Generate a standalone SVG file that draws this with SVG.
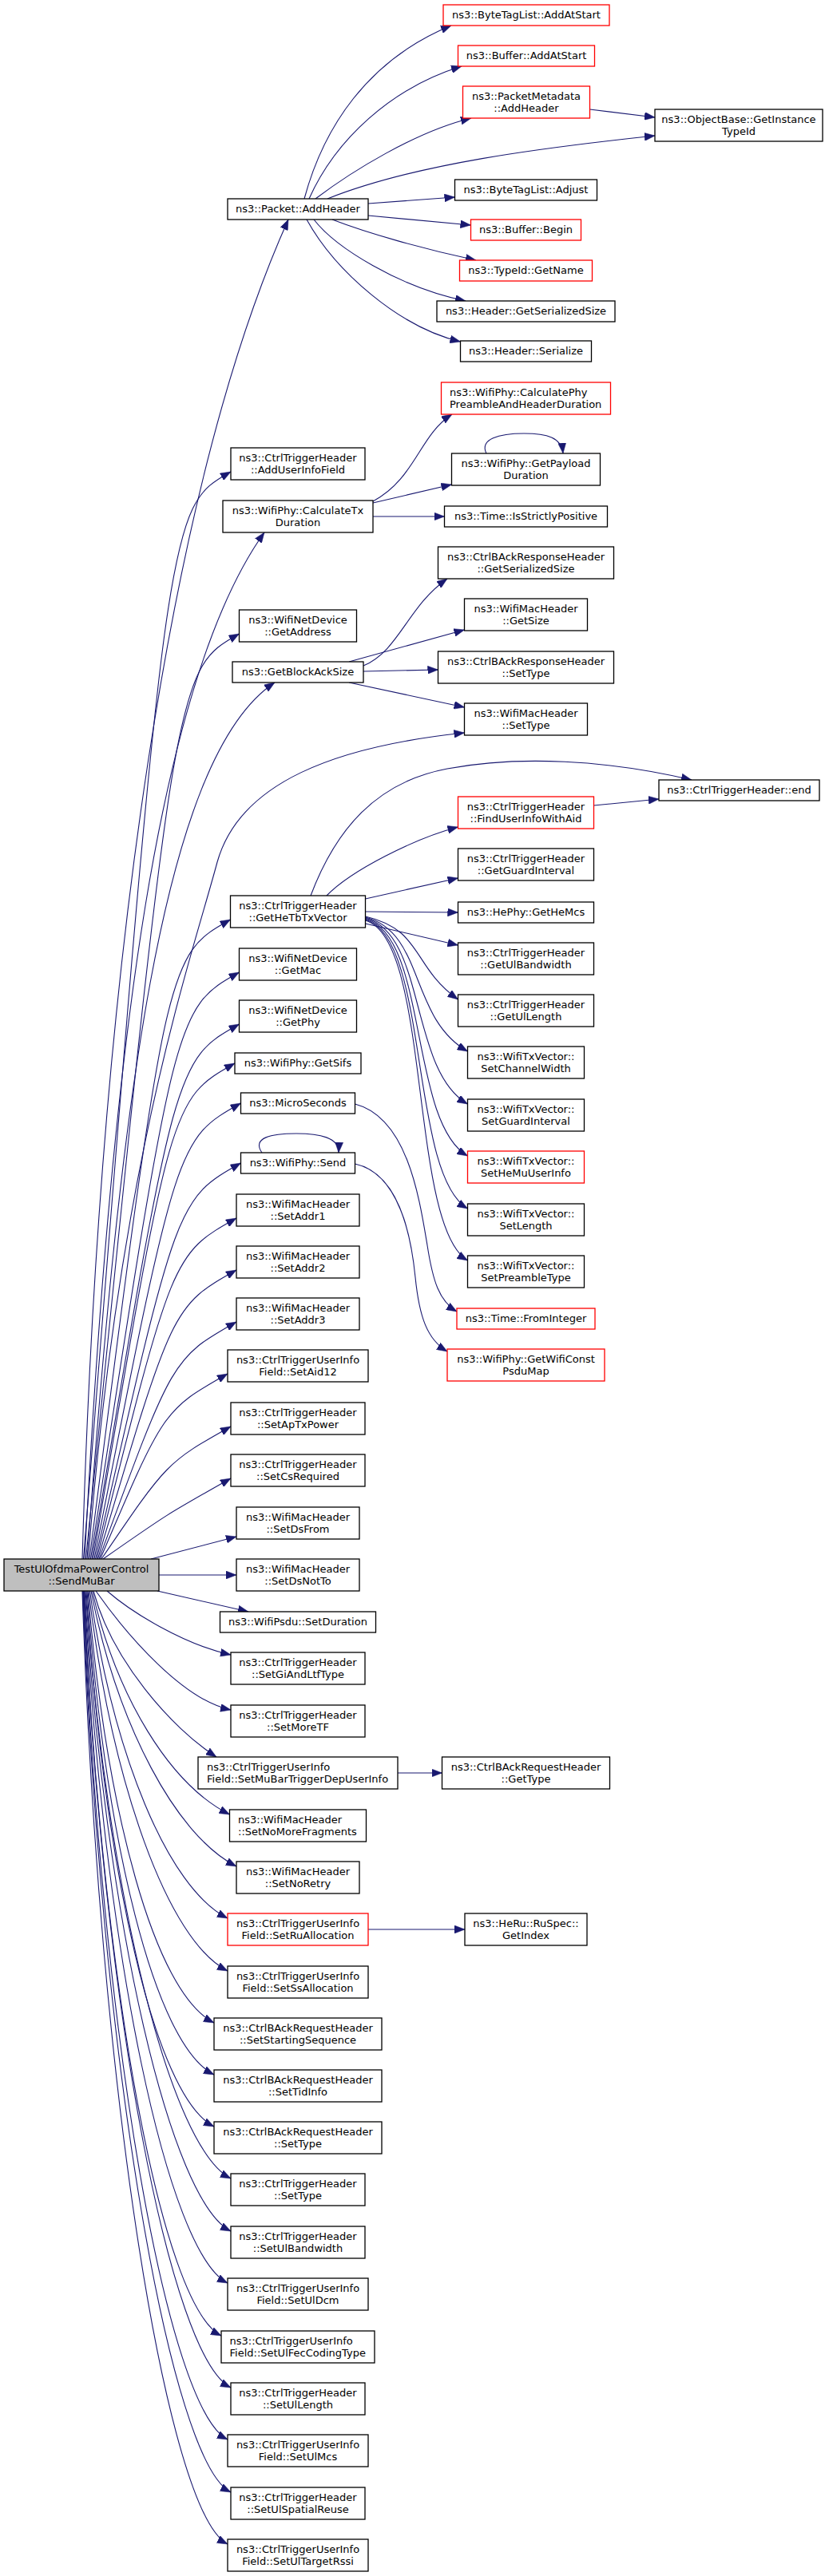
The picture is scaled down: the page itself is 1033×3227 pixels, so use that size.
<svg xmlns="http://www.w3.org/2000/svg" width="1033" height="3227" viewBox="0 0 1033 3227">
<defs>
<style>
.nb rect{fill:#fff;stroke:#000;stroke-width:1.3}
.nr rect{fill:#fff;stroke:#f00;stroke-width:1.3}
.ng rect{fill:#bfbfbf;stroke:#000;stroke-width:1.3}
text{font-family:"DejaVu Sans","Liberation Sans",sans-serif;font-size:13px;text-anchor:middle;fill:#000}
text.l{text-anchor:start}
#edges path{fill:none;stroke:#191970;stroke-width:1.1;marker-end:url(#ah)}
</style>
<marker id="ah" viewBox="0 0 13 10" refX="13" refY="5" markerWidth="13" markerHeight="10" markerUnits="userSpaceOnUse" orient="auto"><path d="M0,0 L13,5 L0,10 z" fill="#191970" stroke="#191970" stroke-width="0.5"/></marker>
</defs>
<rect width="1033" height="3227" fill="#fff"/>
<g id="edges">
<path d="M103,1953 C125,1200 215,600 361,275"/>
<path d="M104.5,1953 C209,636 209,636 289,591"/>
<path d="M106,1953 C140,1300 200,850 331,667"/>
<path d="M107.5,1953 C219.5,839 219.5,839 299.5,794"/>
<path d="M109,1953 C150,1400 200,950 344,855"/>
<path d="M110.5,1953 C150,1450 240,1200 272,1080 C300,980 420,935 581.5,918"/>
<path d="M112,1953 C208.5,1197 208.5,1197 288.5,1152"/>
<path d="M113.5,1953 C219.5,1263 219.5,1263 299.5,1218"/>
<path d="M115,1953 C219.5,1328 219.5,1328 299.5,1283"/>
<path d="M116.5,1953 C214,1377 214,1377 294,1332"/>
<path d="M118,1953 C221.5,1427 221.5,1427 301.5,1382"/>
<path d="M119.5,1953 C221.5,1502 221.5,1502 301.5,1457"/>
<path d="M121,1953 C216,1571 216,1571 296,1526"/>
<path d="M122.5,1953 C216,1636 216,1636 296,1591"/>
<path d="M124,1953 C216,1701 216,1701 296,1656"/>
<path d="M125.5,1953 C205,1766 205,1766 285,1721"/>
<path d="M127,1953 C209,1832 209,1832 289,1787"/>
<path d="M129,1953 C209,1897 209,1897 289,1852"/>
<path d="M189,1953 L296,1925"/>
<path d="M199,1973 L296,1973"/>
<path d="M197,1993 L311,2019"/>
<path d="M134,1993 C165,2020 230,2060 289,2073"/>
<path d="M120,1993 C160,2050 230,2130 289,2142"/>
<path d="M117,1993 C140,2080 215,2165 271,2201"/>
<path d="M115.5,1993 C146,2126 212.5,2235 287.5,2273"/>
<path d="M114,1993 C147,2162 221,2300 296,2338"/>
<path d="M112.5,1993 C141.7,2197.6 210,2365 285,2403"/>
<path d="M111,1993 C139.7,2233.9 210,2431 285,2469"/>
<path d="M110,1993 C133.4,2269.7 193,2496 268,2534"/>
<path d="M109,1993 C132,2305.4 193,2561 268,2599"/>
<path d="M108,1993 C130.6,2341.2 193,2626 268,2664"/>
<path d="M107,1993 C134.6,2376.9 214,2691 289,2729"/>
<path d="M106,1993 C133,2413.2 214,2757 289,2795"/>
<path d="M105.5,1993 C130.8,2449 210,2822 285,2860"/>
<path d="M105,1993 C127.6,2485.3 202,2888 277,2926"/>
<path d="M104.5,1993 C129.1,2521 214,2953 289,2991"/>
<path d="M104,1993 C127,2556.8 210,3018 285,3056"/>
<path d="M103.5,1993 C126.6,2593 214,3084 289,3122"/>
<path d="M103,1993 C124.4,2628.8 210,3149 285,3187"/>
<path d="M381,249 C405,160 460,75 565,32"/>
<path d="M387,249 C420,175 490,110 578,83"/>
<path d="M395,249 C440,215 520,165 590,148"/>
<path d="M410,249 C520,205 680,185 820,170"/>
<path d="M738.5,137 L820,147"/>
<path d="M461,255 L569.5,247"/>
<path d="M461,270 L589.5,282"/>
<path d="M416,275 C460,292 530,312 596,326"/>
<path d="M393,275 C420,310 500,360 583,377"/>
<path d="M384,275 C420,340 500,410 576.5,428"/>
<path d="M467,628 C520,600 525,545 566,519"/>
<path d="M467,630 L565.5,607"/>
<path d="M467,647 L556.5,647"/>
<path d="M609,568 C600,550 625,543 656,543 C685,543 703,548 705,568"/>
<path d="M455,834 C500,815 510,760 560,725"/>
<path d="M437,829 L581.5,789"/>
<path d="M455,841 L548.5,839"/>
<path d="M437,855 L581.5,886"/>
<path d="M389,1122 C420,1040 470,980 560,963 C650,946 760,952 866,977"/>
<path d="M409,1122 C440,1090 520,1050 573.5,1036"/>
<path d="M743.5,1009 L825,1001"/>
<path d="M457.5,1126 L573.5,1100"/>
<path d="M457.5,1142 L573.5,1143"/>
<path d="M457.5,1157 L573.5,1184"/>
<path d="M457.5,1148 C530,1165 515,1210 573.5,1252"/>
<path d="M457.5,1149 C532,1168 512,1275 585.5,1317"/>
<path d="M457.5,1150 C534,1170 512,1340 585.5,1383"/>
<path d="M457.5,1151 C536,1172 512,1405 585.5,1448"/>
<path d="M457.5,1152 C538,1174 512,1470 585.5,1514"/>
<path d="M457.5,1153 C540,1176 512,1535 585.5,1579"/>
<path d="M444.5,1383 C510,1400 525,1500 535,1560 C542,1605 550,1630 572,1643"/>
<path d="M444.5,1458 C500,1470 515,1550 520,1600 C525,1650 535,1678 560,1693"/>
<path d="M328,1444 C315,1425 340,1420 371,1420 C400,1420 425,1425 424,1444"/>
<path d="M498,2221 L553.5,2221"/>
<path d="M461,2417 L582,2417"/>
</g>
<g id="n_sendmubar" class="ng"><rect x="5" y="1953" width="194" height="40"/><text x="102" y="1970">TestUlOfdmaPowerControl</text><text x="102" y="1984.5">::SendMuBar</text></g>
<g id="n_addheader" class="nb"><rect x="285" y="249" width="176" height="26"/><text x="373" y="266">ns3::Packet::AddHeader</text></g>
<g id="n_adduserinfofield" class="nb"><rect x="289" y="561" width="168" height="40"/><text x="373" y="578">ns3::CtrlTriggerHeader</text><text x="373" y="592.5">::AddUserInfoField</text></g>
<g id="n_calculatetxduration" class="nb"><rect x="279" y="627" width="188" height="40"/><text x="373" y="644">ns3::WifiPhy::CalculateTx</text><text x="373" y="658.5">Duration</text></g>
<g id="n_getaddress" class="nb"><rect x="299.5" y="764" width="147" height="40"/><text x="373" y="781">ns3::WifiNetDevice</text><text x="373" y="795.5">::GetAddress</text></g>
<g id="n_getblockacksize" class="nb"><rect x="291" y="829" width="164" height="26"/><text x="373" y="846">ns3::GetBlockAckSize</text></g>
<g id="n_gethetbtxvector" class="nb"><rect x="288.5" y="1122" width="169" height="40"/><text x="373" y="1139">ns3::CtrlTriggerHeader</text><text x="373" y="1153.5">::GetHeTbTxVector</text></g>
<g id="n_getmac" class="nb"><rect x="299.5" y="1188" width="147" height="40"/><text x="373" y="1205">ns3::WifiNetDevice</text><text x="373" y="1219.5">::GetMac</text></g>
<g id="n_getphy" class="nb"><rect x="299.5" y="1253" width="147" height="40"/><text x="373" y="1270">ns3::WifiNetDevice</text><text x="373" y="1284.5">::GetPhy</text></g>
<g id="n_getsifs" class="nb"><rect x="294" y="1319" width="158" height="26"/><text x="373" y="1336">ns3::WifiPhy::GetSifs</text></g>
<g id="n_microseconds" class="nb"><rect x="301.5" y="1369" width="143" height="26"/><text x="373" y="1386">ns3::MicroSeconds</text></g>
<g id="n_send" class="nb"><rect x="301.5" y="1444" width="143" height="26"/><text x="373" y="1461">ns3::WifiPhy::Send</text></g>
<g id="n_setaddr1" class="nb"><rect x="296" y="1496" width="154" height="40"/><text x="373" y="1513">ns3::WifiMacHeader</text><text x="373" y="1527.5">::SetAddr1</text></g>
<g id="n_setaddr2" class="nb"><rect x="296" y="1561" width="154" height="40"/><text x="373" y="1578">ns3::WifiMacHeader</text><text x="373" y="1592.5">::SetAddr2</text></g>
<g id="n_setaddr3" class="nb"><rect x="296" y="1626" width="154" height="40"/><text x="373" y="1643">ns3::WifiMacHeader</text><text x="373" y="1657.5">::SetAddr3</text></g>
<g id="n_setaid12" class="nb"><rect x="285" y="1691" width="176" height="40"/><text x="373" y="1708">ns3::CtrlTriggerUserInfo</text><text x="373" y="1722.5">Field::SetAid12</text></g>
<g id="n_setaptxpower" class="nb"><rect x="289" y="1757" width="168" height="40"/><text x="373" y="1774">ns3::CtrlTriggerHeader</text><text x="373" y="1788.5">::SetApTxPower</text></g>
<g id="n_setcsrequired" class="nb"><rect x="289" y="1822" width="168" height="40"/><text x="373" y="1839">ns3::CtrlTriggerHeader</text><text x="373" y="1853.5">::SetCsRequired</text></g>
<g id="n_setdsfrom" class="nb"><rect x="296" y="1888" width="154" height="40"/><text x="373" y="1905">ns3::WifiMacHeader</text><text x="373" y="1919.5">::SetDsFrom</text></g>
<g id="n_setdsnotto" class="nb"><rect x="296" y="1953" width="154" height="40"/><text x="373" y="1970">ns3::WifiMacHeader</text><text x="373" y="1984.5">::SetDsNotTo</text></g>
<g id="n_setduration" class="nb"><rect x="275.5" y="2019" width="195" height="26"/><text x="373" y="2036">ns3::WifiPsdu::SetDuration</text></g>
<g id="n_setgiandltftype" class="nb"><rect x="289" y="2070" width="168" height="40"/><text x="373" y="2087">ns3::CtrlTriggerHeader</text><text x="373" y="2101.5">::SetGiAndLtfType</text></g>
<g id="n_setmoretf" class="nb"><rect x="289" y="2136" width="168" height="40"/><text x="373" y="2153">ns3::CtrlTriggerHeader</text><text x="373" y="2167.5">::SetMoreTF</text></g>
<g id="n_setmubartriggerdepuserinfo" class="nb"><rect x="248" y="2201" width="250" height="40"/><text class="l" x="259" y="2218">ns3::CtrlTriggerUserInfo</text><text class="l" x="259" y="2232.5">Field::SetMuBarTriggerDepUserInfo</text></g>
<g id="n_setnomorefragments" class="nb"><rect x="287.5" y="2267" width="171" height="40"/><text class="l" x="298" y="2284">ns3::WifiMacHeader</text><text class="l" x="298" y="2298.5">::SetNoMoreFragments</text></g>
<g id="n_setnoretry" class="nb"><rect x="296" y="2332" width="154" height="40"/><text x="373" y="2349">ns3::WifiMacHeader</text><text x="373" y="2363.5">::SetNoRetry</text></g>
<g id="n_setruallocation" class="nr"><rect x="285" y="2397" width="176" height="40"/><text x="373" y="2414">ns3::CtrlTriggerUserInfo</text><text x="373" y="2428.5">Field::SetRuAllocation</text></g>
<g id="n_setssallocation" class="nb"><rect x="285" y="2463" width="176" height="40"/><text x="373" y="2480">ns3::CtrlTriggerUserInfo</text><text x="373" y="2494.5">Field::SetSsAllocation</text></g>
<g id="n_setstartingsequence" class="nb"><rect x="268" y="2528" width="210" height="40"/><text x="373" y="2545">ns3::CtrlBAckRequestHeader</text><text x="373" y="2559.5">::SetStartingSequence</text></g>
<g id="n_settidinfo" class="nb"><rect x="268" y="2593" width="210" height="40"/><text x="373" y="2610">ns3::CtrlBAckRequestHeader</text><text x="373" y="2624.5">::SetTidInfo</text></g>
<g id="n_barh_settype" class="nb"><rect x="268" y="2658" width="210" height="40"/><text x="373" y="2675">ns3::CtrlBAckRequestHeader</text><text x="373" y="2689.5">::SetType</text></g>
<g id="n_cth_settype" class="nb"><rect x="289" y="2723" width="168" height="40"/><text x="373" y="2740">ns3::CtrlTriggerHeader</text><text x="373" y="2754.5">::SetType</text></g>
<g id="n_setulbandwidth" class="nb"><rect x="289" y="2789" width="168" height="40"/><text x="373" y="2806">ns3::CtrlTriggerHeader</text><text x="373" y="2820.5">::SetUlBandwidth</text></g>
<g id="n_setuldcm" class="nb"><rect x="285" y="2854" width="176" height="40"/><text x="373" y="2871">ns3::CtrlTriggerUserInfo</text><text x="373" y="2885.5">Field::SetUlDcm</text></g>
<g id="n_setulfeccodingtype" class="nb"><rect x="277" y="2920" width="192" height="40"/><text class="l" x="287.5" y="2937">ns3::CtrlTriggerUserInfo</text><text class="l" x="287.5" y="2951.5">Field::SetUlFecCodingType</text></g>
<g id="n_setullength" class="nb"><rect x="289" y="2985" width="168" height="40"/><text x="373" y="3002">ns3::CtrlTriggerHeader</text><text x="373" y="3016.5">::SetUlLength</text></g>
<g id="n_setulmcs" class="nb"><rect x="285" y="3050" width="176" height="40"/><text x="373" y="3067">ns3::CtrlTriggerUserInfo</text><text x="373" y="3081.5">Field::SetUlMcs</text></g>
<g id="n_setulspatialreuse" class="nb"><rect x="289" y="3116" width="168" height="40"/><text x="373" y="3133">ns3::CtrlTriggerHeader</text><text x="373" y="3147.5">::SetUlSpatialReuse</text></g>
<g id="n_setultargetrssi" class="nb"><rect x="285" y="3181" width="176" height="40"/><text x="373" y="3198">ns3::CtrlTriggerUserInfo</text><text x="373" y="3212.5">Field::SetUlTargetRssi</text></g>
<g id="r_btl_addatstart" class="nr"><rect x="555" y="6" width="208" height="26"/><text x="659" y="23">ns3::ByteTagList::AddAtStart</text></g>
<g id="r_buf_addatstart" class="nr"><rect x="573.5" y="57" width="171" height="26"/><text x="659" y="74">ns3::Buffer::AddAtStart</text></g>
<g id="r_pm_addheader" class="nr"><rect x="579.5" y="108" width="159" height="40"/><text x="659" y="125">ns3::PacketMetadata</text><text x="659" y="139.5">::AddHeader</text></g>
<g id="r_getinstancetypeid" class="nb"><rect x="820" y="137" width="210" height="40"/><text x="925" y="154">ns3::ObjectBase::GetInstance</text><text x="925" y="168.5">TypeId</text></g>
<g id="r_btl_adjust" class="nb"><rect x="569.5" y="225" width="178" height="26"/><text x="658.5" y="242">ns3::ByteTagList::Adjust</text></g>
<g id="r_buf_begin" class="nr"><rect x="589.5" y="275" width="138" height="26"/><text x="658.5" y="292">ns3::Buffer::Begin</text></g>
<g id="r_getname" class="nr"><rect x="575.5" y="326" width="166" height="26"/><text x="658.5" y="343">ns3::TypeId::GetName</text></g>
<g id="r_h_getserializedsize" class="nb"><rect x="547" y="377" width="223" height="26"/><text x="658.5" y="394">ns3::Header::GetSerializedSize</text></g>
<g id="r_h_serialize" class="nb"><rect x="576.5" y="427" width="164" height="26"/><text x="658.5" y="444">ns3::Header::Serialize</text></g>
<g id="r_calcphypreamble" class="nr"><rect x="552.5" y="479" width="212" height="40"/><text class="l" x="563" y="496">ns3::WifiPhy::CalculatePhy</text><text class="l" x="563" y="510.5">PreambleAndHeaderDuration</text></g>
<g id="r_getpayloadduration" class="nb"><rect x="565.5" y="568" width="186" height="40"/><text x="658.5" y="585">ns3::WifiPhy::GetPayload</text><text x="658.5" y="599.5">Duration</text></g>
<g id="r_isstrictlypositive" class="nb"><rect x="556.5" y="634" width="204" height="26"/><text x="658.5" y="651">ns3::Time::IsStrictlyPositive</text></g>
<g id="r_cbrh_getserializedsize" class="nb"><rect x="548.5" y="685" width="220" height="40"/><text x="658.5" y="702">ns3::CtrlBAckResponseHeader</text><text x="658.5" y="716.5">::GetSerializedSize</text></g>
<g id="r_wmh_getsize" class="nb"><rect x="581.5" y="750" width="154" height="40"/><text x="658.5" y="767">ns3::WifiMacHeader</text><text x="658.5" y="781.5">::GetSize</text></g>
<g id="r_cbrh_settype" class="nb"><rect x="548.5" y="816" width="220" height="40"/><text x="658.5" y="833">ns3::CtrlBAckResponseHeader</text><text x="658.5" y="847.5">::SetType</text></g>
<g id="r_wmh_settype" class="nb"><rect x="581.5" y="881" width="154" height="40"/><text x="658.5" y="898">ns3::WifiMacHeader</text><text x="658.5" y="912.5">::SetType</text></g>
<g id="r_cth_end" class="nb"><rect x="825" y="977" width="201" height="26"/><text x="925.5" y="994">ns3::CtrlTriggerHeader::end</text></g>
<g id="r_finduserinfowithaid" class="nr"><rect x="573.5" y="998" width="170" height="40"/><text x="658.5" y="1015">ns3::CtrlTriggerHeader</text><text x="658.5" y="1029.5">::FindUserInfoWithAid</text></g>
<g id="r_getguardinterval" class="nb"><rect x="573.5" y="1063" width="170" height="40"/><text x="658.5" y="1080">ns3::CtrlTriggerHeader</text><text x="658.5" y="1094.5">::GetGuardInterval</text></g>
<g id="r_gethemcs" class="nb"><rect x="573.5" y="1130" width="170" height="26"/><text x="658.5" y="1147">ns3::HePhy::GetHeMcs</text></g>
<g id="r_getulbandwidth" class="nb"><rect x="573.5" y="1181" width="170" height="40"/><text x="658.5" y="1198">ns3::CtrlTriggerHeader</text><text x="658.5" y="1212.5">::GetUlBandwidth</text></g>
<g id="r_getullength" class="nb"><rect x="573.5" y="1246" width="170" height="40"/><text x="658.5" y="1263">ns3::CtrlTriggerHeader</text><text x="658.5" y="1277.5">::GetUlLength</text></g>
<g id="r_setchannelwidth" class="nb"><rect x="585.5" y="1311" width="146" height="40"/><text x="658.5" y="1328">ns3::WifiTxVector::</text><text x="658.5" y="1342.5">SetChannelWidth</text></g>
<g id="r_setguardinterval" class="nb"><rect x="585.5" y="1377" width="146" height="40"/><text x="658.5" y="1394">ns3::WifiTxVector::</text><text x="658.5" y="1408.5">SetGuardInterval</text></g>
<g id="r_sethemuuserinfo" class="nr"><rect x="585.5" y="1442" width="146" height="40"/><text x="658.5" y="1459">ns3::WifiTxVector::</text><text x="658.5" y="1473.5">SetHeMuUserInfo</text></g>
<g id="r_setlength" class="nb"><rect x="585.5" y="1508" width="146" height="40"/><text x="658.5" y="1525">ns3::WifiTxVector::</text><text x="658.5" y="1539.5">SetLength</text></g>
<g id="r_setpreambletype" class="nb"><rect x="585.5" y="1573" width="146" height="40"/><text x="658.5" y="1590">ns3::WifiTxVector::</text><text x="658.5" y="1604.5">SetPreambleType</text></g>
<g id="r_frominteger" class="nr"><rect x="572" y="1639" width="173" height="26"/><text x="658.5" y="1656">ns3::Time::FromInteger</text></g>
<g id="r_getwificonstpsdumap" class="nr"><rect x="560" y="1690" width="197" height="40"/><text x="658.5" y="1707">ns3::WifiPhy::GetWifiConst</text><text x="658.5" y="1721.5">PsduMap</text></g>
<g id="r_cbrqh_gettype" class="nb"><rect x="553.5" y="2201" width="210" height="40"/><text x="658.5" y="2218">ns3::CtrlBAckRequestHeader</text><text x="658.5" y="2232.5">::GetType</text></g>
<g id="r_getindex" class="nb"><rect x="582" y="2397" width="153" height="40"/><text x="658.5" y="2414">ns3::HeRu::RuSpec::</text><text x="658.5" y="2428.5">GetIndex</text></g>
</svg>
